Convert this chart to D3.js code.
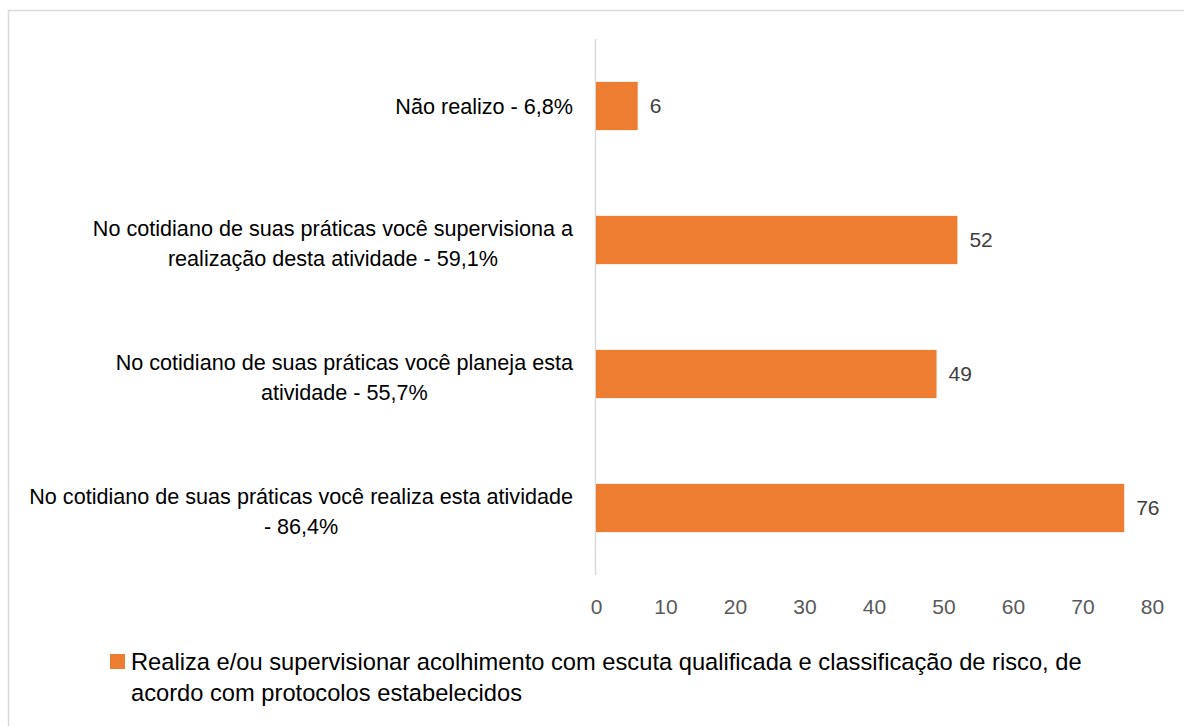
<!DOCTYPE html>
<html>
<head>
<meta charset="utf-8">
<script src="https://cdn.jsdelivr.net/npm/d3@7"></script>
<style>
  body { margin: 0; background: #fff; }
  svg text { font-family: "Liberation Sans", Arial, sans-serif; }
</style>
</head>
<body>
<div id="chart"></div>
<script>
// data, top to bottom
const categories = [
    "Não realizo - 6,8%",
    "No cotidiano de suas práticas você supervisiona a realização desta atividade - 59,1%",
    "No cotidiano de suas práticas você planeja esta atividade - 55,7%",
    "No cotidiano de suas práticas você realiza esta atividade - 86,4%"
];
// how each label is broken in the picture
const labelLines = [
    ["Não realizo - 6,8%"],
    ["No cotidiano de suas práticas você supervisiona a", "realização desta atividade - 59,1%"],
    ["No cotidiano de suas práticas você planeja esta", "atividade - 55,7%"],
    ["No cotidiano de suas práticas você realiza esta atividade", "- 86,4%"]
];
const values = [6, 52, 49, 76];
const xTicks = [0, 10, 20, 30, 40, 50, 60, 70, 80];
const seriesName = "Realiza e/ou supervisionar acolhimento com escuta qualificada e classificação de risco, de";
const seriesName2 = "acordo com protocolos estabelecidos";

const width = 1184, height = 726;
const orange = "#ED7D31";

let svg = d3.select("#chart").append("svg").attr("width", width).attr("height", height);

// outer frame
svg.append("rect")
    .attr("x", 8.5).attr("y", 10.5)
    .attr("width", width + 10).attr("height", height + 10)
    .attr("fill", "none").attr("stroke", "#d9d9d9").attr("stroke-width", 1.5);

let x = d3.scaleLinear().domain([0, 80]).range([596, 1152]);
let y = d3.scaleBand().domain(categories).range([39, 575]).paddingInner(0.64).paddingOuter(0.32);

// category axis line
svg.append("line")
    .attr("x1", x(0) - 0.5).attr("x2", x(0) - 0.5)
    .attr("y1", 39).attr("y2", 575)
    .attr("stroke", "#d9d9d9").attr("stroke-width", 1.5);

// bars
svg.selectAll("rect.bar").data(values).join("rect")
    .attr("class", "bar")
    .attr("x", x(0))
    .attr("y", (d, i) => y(categories[i]))
    .attr("width", d => x(d) - x(0))
    .attr("height", y.bandwidth())
    .attr("fill", orange);

// value labels
svg.selectAll("text.val").data(values).join("text")
    .attr("class", "val")
    .attr("x", d => x(d) + 12)
    .attr("y", (d, i) => y(categories[i]) + y.bandwidth() / 2)
    .attr("dy", "0.35em")
    .attr("font-size", 21)
    .attr("fill", "#404040")
    .text(d => d);

// category labels
let lab = svg.selectAll("text.cat").data(categories).join("text")
    .attr("class", "cat")
    .attr("text-anchor", "middle")
    .attr("font-size", 21.6)
    .attr("fill", "#000");
lab.each(function(c, i) {
    let lines = labelLines[i];
    let cy = y(c) + y.bandwidth() / 2 + (lines.length > 1 ? 3 : 0);
    let t = d3.select(this);
    let w = 0;
    lines.forEach((s, j) => {
        let ts = t.append("tspan")
            .attr("y", cy + (j - (lines.length - 1) / 2) * 30)
            .attr("dy", "0.35em")
            .text(s);
        w = Math.max(w, ts.node().getComputedTextLength());
    });
    // widest line ends next to the axis, others centered on it
    t.selectAll("tspan").attr("x", 573 - w / 2);
});

// x axis ticks (no line)
let xAxis = d3.axisBottom(x).tickValues(xTicks).tickSize(0).tickPadding(0);
let gx = svg.append("g").attr("transform", "translate(0,600)").call(xAxis);
gx.select(".domain").remove();
gx.selectAll("text")
    .attr("font-size", 21)
    .attr("font-family", "Liberation Sans, Arial, sans-serif")
    .attr("fill", "#595959")
    .attr("dy", "0.35em")
    .attr("y", 7);

// legend
svg.append("rect")
    .attr("x", 110).attr("y", 654)
    .attr("width", 15).attr("height", 15)
    .attr("fill", orange);
svg.append("text")
    .attr("x", 131).attr("y", 662).attr("dy", "0.35em")
    .attr("font-size", 23.7).attr("fill", "#000")
    .text(seriesName);
svg.append("text")
    .attr("x", 131).attr("y", 693).attr("dy", "0.35em")
    .attr("font-size", 23.7).attr("fill", "#000")
    .text(seriesName2);
</script>
</body>
</html>
